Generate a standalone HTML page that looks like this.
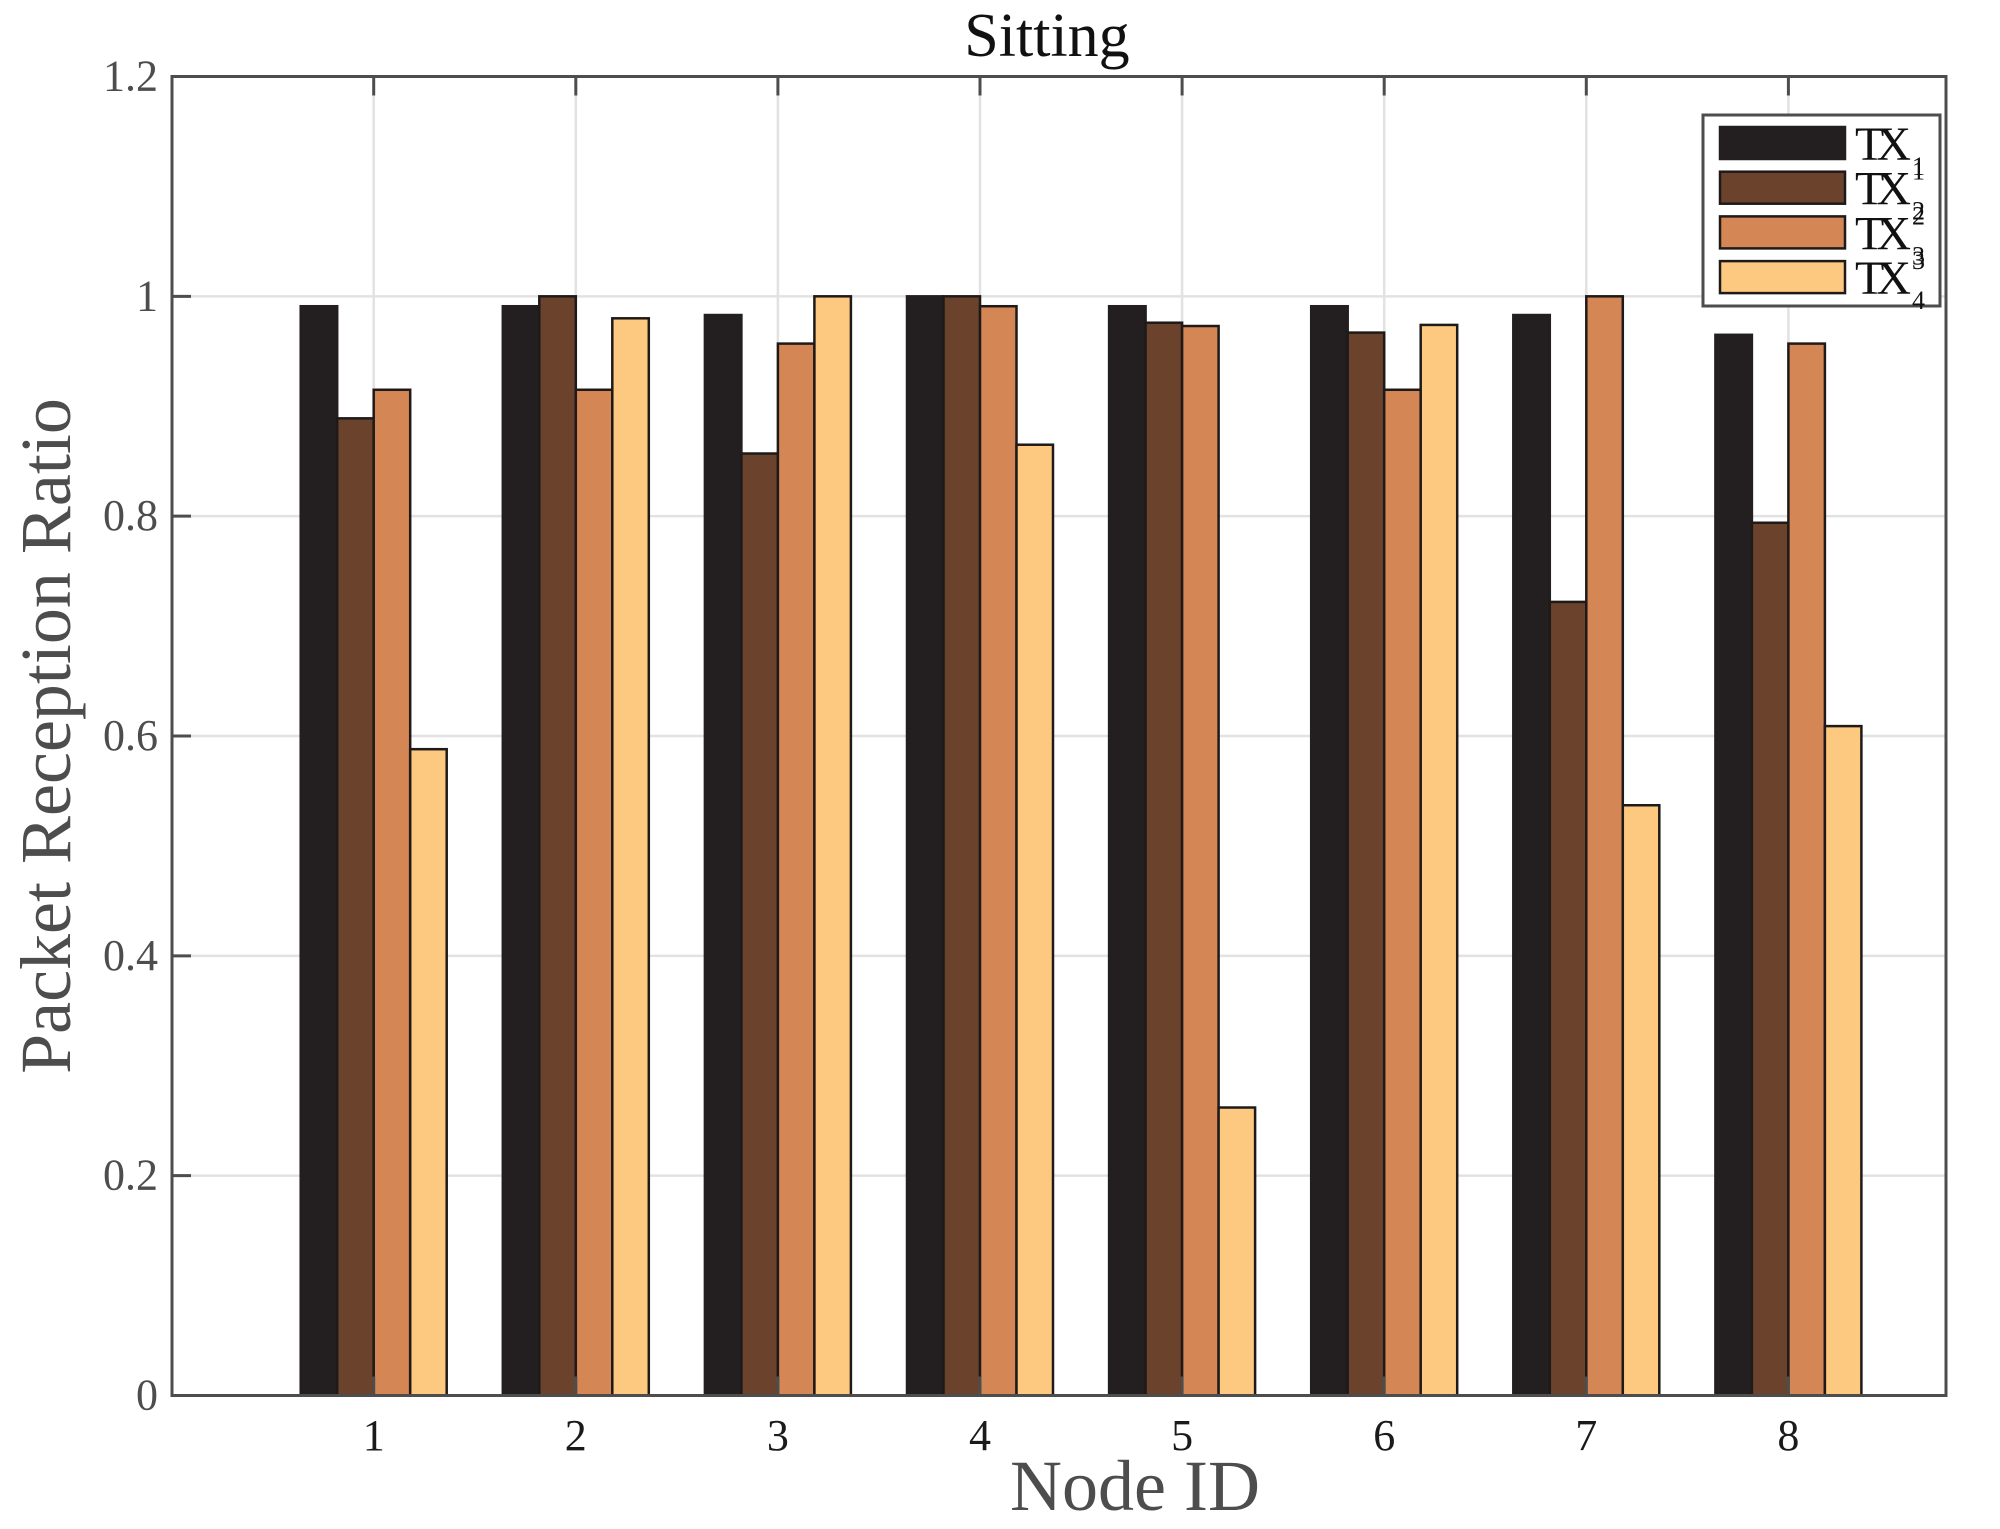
<!DOCTYPE html>
<html><head><meta charset="utf-8"><style>
html,body{margin:0;padding:0;background:#fff;}
svg{display:block;font-family:"Liberation Serif",serif;}
</style></head><body>
<svg id="chart" width="2000" height="1529" viewBox="0 0 2000 1529" xmlns="http://www.w3.org/2000/svg"></svg>
<script>
const categories = ["1","2","3","4","5","6","7","8"];
const seriesNames = ["TX1","TX2","TX3","TX4"];
const tx1 = [0.991,0.991,0.983,1.0,0.991,0.991,0.983,0.965];
const tx2 = [0.889,1.0,0.857,1.0,0.976,0.967,0.722,0.794];
const tx3 = [0.915,0.915,0.957,0.991,0.973,0.915,1.0,0.957];
const tx4 = [0.588,0.980,1.0,0.865,0.262,0.974,0.537,0.609];
const yTicks = [0,0.2,0.4,0.6,0.8,1,1.2];
const yTickLabels = ["0","0.2","0.4","0.6","0.8","1","1.2"];

const NS="http://www.w3.org/2000/svg";
const svg=document.getElementById('chart');
const L=172,R=1946,T=76.5,B=1395.5;
const yMax=1.2;
const colors=["#231f20","#6b432d","#d48655","#fdc980"];
const series=[tx1,tx2,tx3,tx4];
function y(v){return B-(v/yMax)*(B-T);}
const step=202.1, first=373.7;
function x(i){return first+i*step;}
const barW=36.5;
function mk(tag,attrs,parent){const e=document.createElementNS(NS,tag);for(const k in attrs)e.setAttribute(k,attrs[k]);(parent||svg).appendChild(e);return e;}

const grid=mk('g',{});


yTicks.forEach(v=>{mk('line',{x1:L,x2:R,y1:y(v),y2:y(v),stroke:'#e2e2e2','stroke-width':2.5},grid);});
categories.forEach((c,i)=>{mk('line',{x1:x(i),x2:x(i),y1:T,y2:B,stroke:'#e2e2e2','stroke-width':2.5},grid);});

categories.forEach((c,i)=>{
  series.forEach((s,k)=>{
    const bx=x(i)-2*barW+k*barW;
    const r=mk('rect',{x:bx,y:y(s[i]),width:barW,height:B-y(s[i]),fill:colors[k],stroke:k===0?colors[0]:'#1e1a1a','stroke-width':2.5});
    
    
  });
});

const ax=mk('rect',{x:L,y:T,width:R-L,height:B-T,fill:'none',stroke:'#4d4d4d','stroke-width':3});


yTicks.forEach(v=>{mk('line',{x1:L,x2:L+19,y1:y(v),y2:y(v),stroke:'#4d4d4d','stroke-width':3});});
categories.forEach((c,i)=>{mk('line',{x1:x(i),x2:x(i),y1:T,y2:T+19,stroke:'#4d4d4d','stroke-width':3});mk('line',{x1:x(i),x2:x(i),y1:B,y2:B-19,stroke:'#4d4d4d','stroke-width':3});});

yTicks.forEach((v,i)=>{const t=mk('text',{x:L-14,y:y(v)+14,'text-anchor':'end','font-size':44,fill:'#4d4d4d'});t.textContent=yTickLabels[i];

});
categories.forEach((c,i)=>{const t=mk('text',{x:x(i),y:1450,'text-anchor':'middle','font-size':44,fill:'#1a1a1a'});t.textContent=c;

});

const tt=mk('text',{x:1047,y:56,'text-anchor':'middle','font-size':62,fill:'#111'});tt.textContent='Sitting';


const xl=mk('text',{x:1135,y:1510,'text-anchor':'middle','font-size':72,fill:'#4d4d4d'});xl.textContent='Node ID';


const yl=mk('text',{x:0,y:0,'text-anchor':'middle','font-size':72,fill:'#4d4d4d',transform:'translate(70,736) rotate(-90)'});yl.textContent='Packet Reception Ratio';



const lg=mk('g',{});


mk('rect',{x:1703,y:115,width:237,height:191,fill:'#fff',stroke:'#4d4d4d','stroke-width':3},lg);
seriesNames.forEach((n,k)=>{
  const cy=143+k*44.7;
  const e=mk('g',{},lg);
  
  
  mk('rect',{x:1720,y:cy-16,width:125,height:32,fill:colors[k],stroke:k===0?colors[0]:'#1e1a1a','stroke-width':2.5},e);
  const t=mk('text',{x:1855,y:cy+17,'font-size':48,fill:'#111',textLength:56},e);t.textContent='TX';
  const s=mk('text',{x:1912,y:cy+32,'font-size':26,fill:'#111'},e);s.textContent=String(k+1);
  if(k>0){const p=mk('text',{x:1912,y:cy-8,'font-size':26,fill:'#111'},e);p.textContent=String(k);}
});
</script>
</body></html>
